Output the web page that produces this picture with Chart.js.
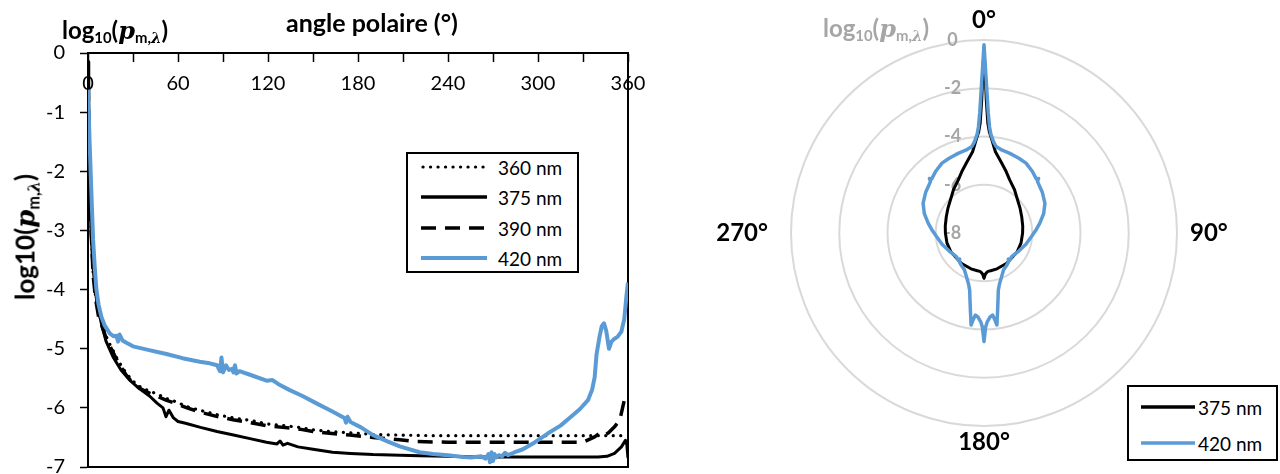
<!DOCTYPE html>
<html lang="fr">
<head>
<meta charset="utf-8">
<title>log10(p m,λ) en fonction de l'angle polaire</title>
<script src="https://cdn.jsdelivr.net/npm/chart.js@4/dist/chart.umd.min.js"></script>
<style>
  html, body { margin: 0; padding: 0; background: #fff; }
  body { width: 1280px; height: 474px; position: relative; overflow: hidden;
         font-family: Lato, "Open Sans", sans-serif; color: #000; }
  .wrap { position: absolute; top: 0; height: 474px; }
  .txt { position: absolute; white-space: nowrap; line-height: 1; }
  .math { font-family: "DejaVu Serif", "Liberation Serif", serif; font-style: italic; }
  sub { font-size: 0.62em; vertical-align: -0.3em; line-height: 0; }
  .legend { position: absolute; border: 2px solid #000; background: #fff; }
  .legend .row { position: absolute; left: 0; height: 30px; width: 100%; }
  .legend svg { position: absolute; top: 0; }
  .legend span { position: absolute; top: 50%; transform: translateY(-50%); font-size: 19px; }
</style>
</head>
<body>

<div class="wrap" style="left:0; width:660px;"><canvas id="courbes"></canvas></div>
<div class="wrap" style="left:680px; width:608px;"><canvas id="polaire"></canvas></div>

<div class="txt" style="left:372px; top:22px; transform:translate(-50%,-50%); font-weight:700; font-size:25px;">angle polaire (°)</div>
<div class="txt" style="left:62px; top:30px; transform:translateY(-50%); font-weight:700; font-size:24px;">log<sub>10</sub>(<span class="math">p</span><sub>m,<span class="math">λ</span></sub>)</div>
<div class="txt" style="left:25px; top:237px; transform:translate(-50%,-50%) rotate(-90deg); font-weight:700; font-size:26px;">log10(<span class="math">p</span><sub>m,<span class="math">λ</span></sub>)</div>
<div class="txt" style="left:823px; top:28px; transform:translateY(-50%); font-weight:700; font-size:24px; color:#a6a6a6;">log<sub>10</sub>(<span class="math">p</span><sub>m,<span class="math">λ</span></sub>)</div>

<div class="legend" style="left:406px; top:152px; width:169px; height:117px;">
  <div class="row" style="top:-2px;"><svg width="80" height="30"><line x1="15" y1="15" x2="78" y2="15" stroke="#000" stroke-width="3.2" stroke-linecap="round" stroke-dasharray="0.1 7.4"/></svg><span style="left:90px;">360 nm</span></div>
  <div class="row" style="top:28px;"><svg width="80" height="30"><line x1="13" y1="15" x2="79" y2="15" stroke="#000" stroke-width="3.5"/></svg><span style="left:90px;">375 nm</span></div>
  <div class="row" style="top:59px;"><svg width="80" height="30"><line x1="13" y1="15" x2="79" y2="15" stroke="#000" stroke-width="3.5" stroke-dasharray="15 9"/></svg><span style="left:90px;">390 nm</span></div>
  <div class="row" style="top:89px;"><svg width="80" height="30"><line x1="13" y1="15" x2="79" y2="15" stroke="#5b9bd5" stroke-width="4"/></svg><span style="left:90px;">420 nm</span></div>
</div>

<div class="legend" style="left:1127px; top:385px; width:147px; height:72px;">
  <div class="row" style="top:5px;"><svg width="70" height="30"><line x1="12" y1="15" x2="66" y2="15" stroke="#000" stroke-width="3.5"/></svg><span style="left:69px;">375 nm</span></div>
  <div class="row" style="top:41px;"><svg width="70" height="30"><line x1="12" y1="15" x2="66" y2="15" stroke="#5b9bd5" stroke-width="3.5"/></svg><span style="left:69px;">420 nm</span></div>
</div>

<script>
// ---- courbes cartésiennes : angle polaire (°) -> log10(p m,λ) ----
const ang360 = [0, 1, 2, 3.4, 5, 7, 10, 13, 16.7, 20, 25.6, 30, 34.5, 40, 45.6, 52, 59, 66, 74.5, 85,
  96.7, 108, 119, 130, 141, 150, 161, 174.5, 190, 207.8, 230, 260, 300, 330, 360];
const log360 = [-0.15, -2.1, -2.9, -3.72, -4.1, -4.4, -4.62, -4.85, -5.03, -5.2, -5.42, -5.55, -5.64, -5.71, -5.76, -5.84, -5.9, -5.98, -6.04, -6.11,
  -6.17, -6.21, -6.27, -6.3, -6.33, -6.37, -6.4, -6.42, -6.45, -6.46, -6.47, -6.47, -6.47, -6.47, -6.47];

const ang375 = [0, 0.5, 1, 2, 3, 4.7, 6.5, 8.9, 12, 16.7, 22, 27.8, 34, 41, 46, 50, 52, 54, 57, 60,
  65, 75, 86, 97, 108, 119, 126, 128, 130, 133, 140, 150, 163, 175, 190, 208, 221, 240, 260, 280,
  300, 320, 340, 346, 351, 355.6, 358.3, 359.2, 360];
const log375 = [-0.15, -1.2, -2.2, -3.0, -3.5, -4.0, -4.3, -4.57, -4.87, -5.14, -5.36, -5.53, -5.67, -5.8, -5.92, -6.0, -6.15, -6.04, -6.17, -6.23,
  -6.26, -6.33, -6.4, -6.46, -6.52, -6.58, -6.61, -6.56, -6.63, -6.6, -6.66, -6.7, -6.75, -6.77, -6.79, -6.8, -6.81, -6.82, -6.83, -6.83,
  -6.83, -6.83, -6.83, -6.82, -6.77, -6.66, -6.55, -6.62, -6.85];

const ang390 = [0, 1, 2, 3.4, 5, 7, 10, 13, 16.7, 20, 25.6, 30, 34.5, 40, 45.6, 52, 59, 66, 74.5, 85,
  96.7, 108, 119, 130, 141, 150, 161, 174.5, 190, 207.8, 218, 240, 270, 300, 330, 337.8, 341, 344, 347, 351,
  354.5, 357.8, 360];
const log390 = [-0.15, -2.1, -2.95, -3.75, -4.15, -4.45, -4.67, -4.88, -5.06, -5.23, -5.45, -5.58, -5.67, -5.74, -5.8, -5.87, -5.93, -6.0, -6.07, -6.14,
  -6.2, -6.25, -6.3, -6.33, -6.36, -6.4, -6.43, -6.46, -6.5, -6.54, -6.57, -6.58, -6.58, -6.58, -6.58, -6.49, -6.43, -6.47, -6.42, -6.32,
  -6.21, -5.84, -5.8];

const ang420 = [0, 1, 1.8, 2.6, 3.4, 4.5, 5.6, 7, 8.9, 11, 14.5, 17, 19, 20, 21, 23, 25.6, 30, 40, 52.3,
  63, 74.5, 80, 86, 88, 89, 90, 92, 94, 96, 97, 98, 99, 101, 108, 119, 123, 127, 134.5, 143,
  152, 162, 171, 172, 173, 175, 182, 190, 200, 207.8, 221, 230, 240, 250, 255.6, 262, 265, 267, 268, 269,
  270, 271, 272, 274, 276, 278, 280, 284.5, 290, 298, 306.7, 315, 322, 328, 333.3, 336, 337.8, 339, 341, 342.5,
  344, 345.5, 347.3, 349, 351, 353, 355.6, 357.5, 359, 360];
const log420 = [-0.62, -1.45, -2.03, -2.6, -3.16, -3.62, -4.0, -4.25, -4.46, -4.6, -4.74, -4.79, -4.78, -4.88, -4.76, -4.86, -4.9, -4.96, -5.02, -5.09,
  -5.16, -5.22, -5.24, -5.28, -5.38, -5.15, -5.4, -5.28, -5.36, -5.34, -5.4, -5.28, -5.42, -5.38, -5.44, -5.54, -5.53, -5.6, -5.7, -5.8,
  -5.92, -6.05, -6.17, -6.25, -6.15, -6.24, -6.33, -6.46, -6.57, -6.65, -6.75, -6.78, -6.8, -6.83, -6.84, -6.82, -6.86, -6.78, -6.92, -6.75,
  -6.9, -6.78, -6.84, -6.8, -6.82, -6.76, -6.8, -6.75, -6.7, -6.58, -6.43, -6.3, -6.15, -6.02, -5.87, -5.7, -5.48, -5.1, -4.8, -4.62,
  -4.57, -4.7, -5.0, -4.88, -4.83, -4.8, -4.71, -4.5, -4.1, -3.88];

// axes
const xMin = 0, xMax = 360, xStep = 30, xLabelStep = 60;
const yMin = -7, yMax = 0, yStep = 1;

// ---- diagramme polaire (degrés entiers) ----
const polAng375 = [0, 1, 2, 3, 5, 8, 14, 20, 26, 35, 42, 55, 67, 80, 90, 105, 120, 143, 160, 170, 174, 176, 178, 179,
  180, 181, 182, 184, 186, 190, 200, 217, 240, 255, 270, 280, 293, 305, 318, 325, 334, 340, 346, 352, 355, 357, 358, 359];
const polLog375 = [-0.3, -2.5, -3.45, -3.8, -4.15, -4.6, -5.0, -5.3, -5.56, -5.8, -5.98, -6.18, -6.3, -6.37, -6.4, -6.41, -6.42, -6.43, -6.42, -6.41, -6.4, -6.36, -6.3, -6.22,
  -6.12, -6.22, -6.3, -6.36, -6.4, -6.41, -6.42, -6.43, -6.42, -6.41, -6.4, -6.37, -6.3, -6.18, -5.98, -5.8, -5.56, -5.3, -5.0, -4.6, -4.15, -3.8, -3.45, -2.5];

const polAng420 = [0, 1, 2, 3, 4, 6, 8, 12, 18, 25, 31, 38, 44, 45, 46, 55, 64, 72, 80, 87, 94,
  105, 118, 130, 136, 137, 140, 146, 152, 158, 163, 166, 168, 170, 172, 173, 174, 176, 177, 178, 179,
  180, 181, 182, 183, 184, 186, 187, 188, 190, 192, 194, 197, 202, 208, 214, 220, 223, 224, 230, 242,
  255, 266, 273, 280, 288, 296, 305, 314, 315, 316, 322, 329, 335, 342, 348, 352, 354, 356, 357, 358, 359];
const polLog420 = [-0.2, -1.9, -3.0, -3.6, -3.9, -4.2, -4.38, -4.48, -4.53, -4.58, -4.62, -4.75, -4.88, -4.8, -4.92, -5.05, -5.19, -5.4, -5.65, -5.85, -6.02,
  -6.2, -6.38, -6.49, -6.45, -6.52, -6.42, -6.35, -6.27, -6.05, -5.8, -5.55, -5.2, -4.75, -4.15, -4.4, -4.58, -4.5, -4.4, -4.3, -4.1,
  -3.5, -4.1, -4.3, -4.4, -4.5, -4.58, -4.4, -4.15, -4.75, -5.2, -5.55, -5.8, -6.05, -6.27, -6.35, -6.42, -6.52, -6.45, -6.49, -6.38,
  -6.2, -6.02, -5.85, -5.65, -5.4, -5.19, -5.05, -4.92, -4.8, -4.88, -4.75, -4.62, -4.58, -4.53, -4.48, -4.38, -4.2, -3.9, -3.6, -3.0, -1.9];

const rMin = -8, rMax = 0, rStep = 2;
const polarLabelAngles = [0, 90, 180, 270];
const polarLabelText = ['0°', '90°', '180°', '270°'];
const polarLabelGap = [0, 2, -4, 12];

const BLEU = '#5b9bd5';
Chart.defaults.font.family = 'Lato, "Open Sans", sans-serif';
Chart.defaults.color = '#000';

const toXY = (xs, ys) => xs.map((x, i) => ({ x, y: ys[i] }));
const axisLine = { color: '#000', width: 2 };

new Chart(document.getElementById('courbes'), {
  type: 'line',
  data: {
    datasets: [
      { label: '360 nm', data: toXY(ang360, log360), borderColor: '#000', borderWidth: 3.2,
        borderDash: [0.1, 7.4], borderCapStyle: 'round', order: 3 },
      { label: '375 nm', data: toXY(ang375, log375), borderColor: '#000', borderWidth: 3, order: 2 },
      { label: '390 nm', data: toXY(ang390, log390), borderColor: '#000', borderWidth: 3.5,
        borderDash: [15, 9], order: 1 },
      { label: '420 nm', data: toXY(ang420, log420), borderColor: BLEU, borderWidth: 4, order: 0 }
    ]
  },
  options: {
    responsive: true, maintainAspectRatio: false, animation: false,
    layout: { padding: { left: 0, right: 32, top: 53, bottom: 7 } },
    elements: {
      point: { radius: 0, hitRadius: 0 },
      line: { tension: 0, fill: false, borderJoinStyle: 'round' }
    },
    plugins: { legend: { display: false }, tooltip: { enabled: false } },
    scales: {
      x: {
        type: 'linear', position: { y: 0 }, min: xMin, max: xMax,
        ticks: { stepSize: xStep, padding: 11, font: { size: 20 }, maxRotation: 0, autoSkip: false,
                 callback: v => (v % xLabelStep === 0 ? v : '') },
        grid: { drawOnChartArea: false, tickLength: 8, color: '#000', tickWidth: 1.5 },
        border: axisLine
      },
      y: {
        position: 'left', min: yMin, max: yMax,
        ticks: { stepSize: yStep, padding: 15, font: { size: 20 } },
        grid: { drawOnChartArea: false, tickLength: 8, color: '#000', tickWidth: 1.5 },
        border: axisLine,
        afterFit: s => { s.width = 88; s.paddingTop = 0; s.paddingBottom = 0; }
      },
      x2: {
        type: 'linear', position: 'bottom', min: xMin, max: xMax,
        ticks: { display: false }, grid: { drawOnChartArea: false, drawTicks: false },
        border: axisLine, afterFit: s => { s.height = 0; }
      },
      y2: {
        type: 'linear', position: 'right', min: yMin, max: yMax,
        ticks: { display: false }, grid: { drawOnChartArea: false, drawTicks: false },
        border: axisLine, afterFit: s => { s.width = 0; s.paddingTop = 0; s.paddingBottom = 0; }
      }
    }
  }
});

// radar : une catégorie par degré, les valeurs lues aux angles relevés
const degres = Array.from({ length: 360 }, (_, i) => i);
const surCercle = (angles, vals) => {
  const d = degres.map(() => null);
  angles.forEach((a, i) => { d[a] = vals[i]; });
  return d;
};

new Chart(document.getElementById('polaire'), {
  type: 'radar',
  data: {
    labels: degres,
    datasets: [
      { label: '420 nm', data: surCercle(polAng420, polLog420), borderColor: BLEU, borderWidth: 3.5,
        fill: false, spanGaps: true, order: 0 },
      { label: '375 nm', data: surCercle(polAng375, polLog375), borderColor: '#000', borderWidth: 3,
        fill: false, spanGaps: true, order: 1 }
    ]
  },
  options: {
    responsive: true, maintainAspectRatio: false, animation: false,
    layout: { padding: { top: 11, bottom: 19 } },
    elements: {
      point: { radius: 0, hitRadius: 0 },
      line: { tension: 0, borderJoinStyle: 'round' }
    },
    plugins: { legend: { display: false }, tooltip: { enabled: false } },
    scales: {
      r: {
        min: rMin, max: rMax,
        angleLines: { display: false },
        grid: { circular: true, color: '#d9d9d9', lineWidth: 2 },
        ticks: {
          stepSize: rStep, color: '#a6a6a6', font: { size: 18, weight: 'bold' },
          showLabelBackdrop: false,
          callback: v => v + '\u2003\u2003\u2003\u2003\u2002'
        },
        pointLabels: {
          display: true, color: '#000',
          font: { size: 24, weight: 'bold', lineHeight: 0.75 },
          padding: ctx => {
            const k = polarLabelAngles.indexOf(ctx.index);
            return k >= 0 ? polarLabelGap[k] : 0;
          },
          callback: l => {
            const k = polarLabelAngles.indexOf(l);
            return k >= 0 ? polarLabelText[k] : '';
          }
        }
      }
    }
  }
});
</script>
</body>
</html>
